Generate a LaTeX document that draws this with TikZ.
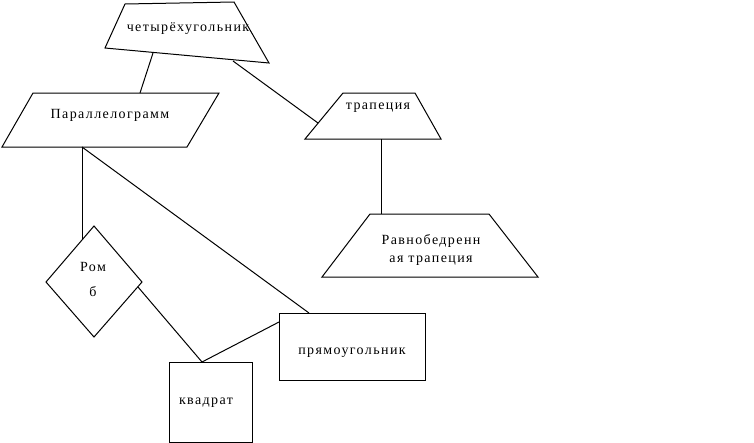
\documentclass[tikz,border=0pt]{standalone}
\usepackage{fontspec}
\setmainfont{Liberation Serif}[LetterSpace=10]
\usetikzlibrary{positioning}
\tikzset{
  fig/.style={draw=black,line width=0.75pt,fill=white},
  lbl/.style={font=\fontsize{10.5}{12.5}\selectfont,align=center,inner sep=0pt},
  link/.style={draw=black,line width=0.75pt},
}

\begin{document}
\begin{tikzpicture}[x=0.75pt,y=-0.75pt]
  \useasboundingbox (0,0) rectangle (754,443);

  % figures
  \draw[fig] (125,4) -- (234,2) -- (269,63) -- (105,48) -- cycle;
  \draw[fig] (33,93) -- (219,93) -- (187,147) -- (2,147) -- cycle;
  \draw[fig] (343,93) -- (415,93) -- (441,139) -- (305,139) -- cycle;
  \draw[fig] (370,214) -- (489,214) -- (538,277) -- (322,277) -- cycle;
  \draw[fig] (94,226) -- (142,282) -- (94,337) -- (46,282) -- cycle;
  \draw[fig] (279,313) rectangle (425,380);
  \draw[fig] (169,362) rectangle (252,442);

  \node[lbl] (quad) at (188,29) {четырёхугольник};
  \node[lbl] (par) at (110,115) {Параллелограмм};
  \node[lbl] (trap) at (378,108) {трапеция};
  \node[lbl] (isotrap) at (431,250) {Равнобедренн\\[1pt]ая трапеция};
  \node[lbl] (romb) at (93,267) {Ром};
  \node[lbl] (rombb) at (93,292) {б};
  \node[lbl] (rect) at (352,353) {прямоугольник};
  \node[lbl] (sq) at (206,403) {квадрат};

  % connection points
  \coordinate (quadS) at (153,53);
  \coordinate (quadE) at (233,61);
  \coordinate (parN) at (140,93);
  \coordinate (parS) at (82,147);
  \coordinate (trapW) at (318,123);
  \coordinate (trapS) at (381,139);
  \coordinate (isoN) at (381,214);
  \coordinate (rombN) at (82,240);
  \coordinate (rombE) at (138,287);
  \coordinate (rectN) at (309,313);
  \coordinate (rectW) at (279,322);
  \coordinate (sqN) at (202,362);

  \draw[link] (quadS) -- (parN);
  \draw[link] (quadE) -- (trapW);
  \draw[link] (trapS) -- (isoN);
  \draw[link] (parS) -- (rombN);
  \draw[link] (parS) -- (rectN);
  \draw[link] (rombE) -- (sqN);
  \draw[link] (sqN) -- (rectW);
\end{tikzpicture}
\end{document}
